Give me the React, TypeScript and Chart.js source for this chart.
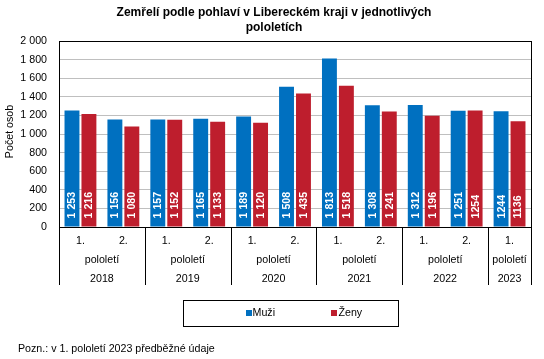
import React, { useEffect, useRef } from "react";
import { Chart, registerables } from "chart.js";

Chart.register(...registerables);

const halfYears = ["1.", "2.", "1.", "2.", "1.", "2.", "1.", "2.", "1.", "2.", "1."];
const years = ["2018", "2019", "2020", "2021", "2022", "2023"];
const groupSizes = [2, 2, 2, 2, 2, 1];
const muzi = [1253, 1156, 1157, 1165, 1189, 1508, 1813, 1308, 1312, 1251, 1244];
const zeny = [1216, 1080, 1152, 1133, 1120, 1435, 1518, 1241, 1196, 1254, 1136];
const muziLabels = ["1 253", "1 156", "1 157", "1 165", "1 189", "1 508", "1 813", "1 308", "1 312", "1 251", "1244"];
const zenyLabels = ["1 216", "1 080", "1 152", "1 133", "1 120", "1 435", "1 518", "1 241", "1 196", "1254", "1136"];
const yTicks = [0, 200, 400, 600, 800, 1000, 1200, 1400, 1600, 1800, 2000];

const BLUE = "#0070c0";
const RED = "#be1e2d";
const FONT = "'Liberation Sans', Arial, sans-serif";
const FS = 10.67;

const fmt = (v: number) => {
  const s = String(Math.round(v));
  return s.length > 3 ? s.slice(0, s.length - 3) + " " + s.slice(-3) : s;
};

const decor = {
  id: "decor",
  afterDraw(chart: any) {
    const ctx = chart.ctx;
    const ca = chart.chartArea;
    const xs = chart.scales.x;
    ctx.save();
    // chart area border
    ctx.strokeStyle = "#000";
    ctx.lineWidth = 1;
    ctx.strokeRect(Math.round(ca.left) + 0.5, Math.round(ca.top) + 0.5, Math.round(ca.right - ca.left), Math.round(ca.bottom - ca.top));

    // title
    ctx.fillStyle = "#000";
    ctx.font = `bold 12px ${FONT}`;
    ctx.textAlign = "center";
    ctx.textBaseline = "middle";
    ctx.fillText("Zemřelí podle pohlaví v Libereckém kraji v jednotlivých", 274, 12.5);
    ctx.fillText("pololetích", 274, 27.5);

    // y-axis title
    ctx.save();
    ctx.translate(10, 131.5);
    ctx.rotate(-Math.PI / 2);
    ctx.font = `${FS}px ${FONT}`;
    ctx.fillText("Počet osob", 0, 0);
    ctx.restore();

    // data labels
    ctx.font = `bold ${FS}px ${FONT}`;
    ctx.fillStyle = "#fff";
    ctx.textAlign = "left";
    const lbls = [muziLabels, zenyLabels];
    chart.data.datasets.forEach((_d: any, di: number) => {
      const meta = chart.getDatasetMeta(di);
      meta.data.forEach((el: any, i: number) => {
        ctx.save();
        ctx.translate(el.x, el.base - 8);
        ctx.rotate(-Math.PI / 2);
        ctx.fillText(lbls[di][i], 0, 0.5);
        ctx.restore();
      });
    });

    // x-axis multi-level labels
    ctx.fillStyle = "#000";
    ctx.font = `${FS}px ${FONT}`;
    ctx.textAlign = "center";
    halfYears.forEach((h, i) => {
      ctx.fillText(h, xs.getPixelForValue(i), 241);
    });
    const half = (xs.getPixelForValue(1) - xs.getPixelForValue(0)) / 2;
    let idx = 0;
    const sepBottom = 285;
    ctx.strokeStyle = "#000";
    ctx.beginPath();
    ctx.moveTo(Math.round(ca.left) + 0.5, ca.bottom);
    ctx.lineTo(Math.round(ca.left) + 0.5, sepBottom);
    groupSizes.forEach((n, g) => {
      const first = xs.getPixelForValue(idx);
      const last = xs.getPixelForValue(idx + n - 1);
      const cx = (first + last) / 2;
      ctx.fillText("pololetí", cx, 260);
      ctx.fillText(years[g], cx, 279);
      const right = Math.round(last + half) + 0.5;
      ctx.moveTo(right, ca.bottom);
      ctx.lineTo(right, sepBottom);
      idx += n;
    });
    ctx.stroke();

    // legend
    ctx.strokeRect(183.5, 300.5, 215, 26);
    ctx.textAlign = "left";
    ctx.fillStyle = BLUE;
    ctx.fillRect(246, 310, 6, 6);
    ctx.fillStyle = RED;
    ctx.fillRect(331, 310, 6, 6);
    ctx.fillStyle = "#000";
    ctx.fillText(chart.data.datasets[0].label, 252.5, 313.5);
    ctx.fillText(chart.data.datasets[1].label, 338.5, 313.5);

    // note
    ctx.fillText("Pozn.: v 1. pololetí 2023 předběžné údaje", 18, 349);
    ctx.restore();
  },
};

export default function App() {
  const ref = useRef<HTMLCanvasElement>(null);
  useEffect(() => {
    if (!ref.current) return;
    const chart = new Chart(ref.current, {
      type: "bar",
      data: {
        labels: halfYears,
        datasets: [
          { label: "Muži", data: muzi, backgroundColor: BLUE, barPercentage: 0.88, categoryPercentage: 0.79 },
          { label: "Ženy", data: zeny, backgroundColor: RED, barPercentage: 0.88, categoryPercentage: 0.79 },
        ],
      },
      options: {
        responsive: false,
        animation: false,
        devicePixelRatio: 1,
        layout: { padding: { left: 8, right: 13, top: 41, bottom: 74 } },
        plugins: { legend: { display: false }, title: { display: false }, tooltip: { enabled: false } },
        scales: {
          x: {
            grid: { display: false },
            border: { color: "#000" },
            ticks: { display: false },
            afterFit: (s: any) => {
              s.height = 58;
            },
          },
          y: {
            min: 0,
            max: 2000,
            afterBuildTicks: (s: any) => {
              s.ticks = yTicks.map((v) => ({ value: v }));
            },
            grid: { color: "#bfbfbf", drawTicks: false },
            border: { color: "#000" },
            ticks: {
              padding: 12,
              color: "#000",
              font: { family: FONT, size: FS },
              callback: (v: any) => fmt(Number(v)),
            },
            afterFit: (s: any) => {
              s.width = 51;
            },
          },
        },
      },
      plugins: [decor],
    });
    return () => chart.destroy();
  }, []);
  return (
    <div style={{ position: "fixed", left: 0, top: 0, width: 544, height: 359, background: "#fff" }}>
      <canvas ref={ref} width={544} height={359} style={{ width: 544, height: 359, display: "block" }} />
    </div>
  );
}
